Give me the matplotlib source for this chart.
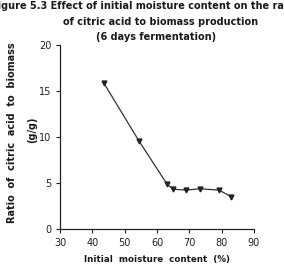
import matplotlib
matplotlib.use("Agg")
import matplotlib.pyplot as plt

# moisture content (%) vs ratio citric acid / biomass (g/g)
moisture = [43.5, 54.4, 63.1, 65.0, 69.0, 73.3, 79.2, 82.9]
ratio = [15.9, 9.6, 4.9, 4.35, 4.25, 4.4, 4.25, 3.55]
x_ticks = [30, 40, 50, 60, 70, 80, 90]
y_ticks = [0, 5, 10, 15, 20]

plt.rcParams['font.family'] = ['DejaVu Sans']
fig = plt.figure(figsize=(2.84, 2.69), dpi=100)
ax = fig.add_axes([60 / 284, 39.7 / 269, 194 / 284, 184.3 / 269])

ax.plot(moisture, ratio, color='#333333', lw=0.9, marker='v', ms=3.5,
        mfc='#222222', mec='#222222')

ax.set_xlim(30, 90)
ax.set_ylim(0, 20)
ax.set_xticks(x_ticks)
ax.set_yticks(y_ticks)
ax.spines['top'].set_visible(False)
ax.spines['right'].set_visible(False)
for s in ('left', 'bottom'):
    ax.spines[s].set_linewidth(0.9)
    ax.spines[s].set_color('#222222')
ax.tick_params(direction='out', length=3, width=0.8, labelsize=7, colors='#222222', pad=3)

col = '#1a1a1a'
ax.set_xlabel('Initial  moisture  content  (%)', labelpad=5, fontsize=6.3,
              fontweight='bold', color=col)

fig.text(12 / 284, 1 - 133 / 269, 'Ratio  of  citric  acid  to  biomass', rotation=90,
         ha='center', va='center', fontsize=7.0, fontweight='bold', color=col)
fig.text(32 / 284, 1 - 130 / 269, '(g/g)', rotation=90,
         ha='center', va='center', fontsize=7.0, fontweight='bold', color=col)

title = dict(ha='center', va='center', fontsize=7, fontweight='bold', color=col)
fig.text(145 / 284, 1 - 6 / 269, 'Figure 5.3 Effect of initial moisture content on the ratio', **title)
fig.text(161 / 284, 1 - 22 / 269, 'of citric acid to biomass production', **title)
fig.text(156 / 284, 1 - 37 / 269, '(6 days fermentation)', **title)

fig.savefig('out.png', dpi=100)
